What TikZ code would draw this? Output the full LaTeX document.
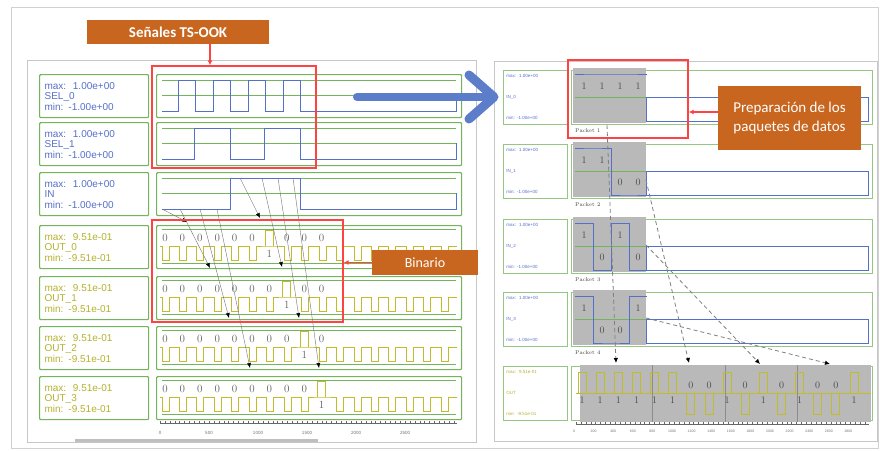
\documentclass[tikz,border=0pt]{standalone}
\usepackage{fontspec}
\usepackage{tikz}
\usetikzlibrary{arrows.meta,positioning,calc}
\newfontfamily\calibri{Carlito}
\newfontfamily\arial{Liberation Sans}
\definecolor{naranja}{HTML}{C8661F}
\definecolor{rojo}{HTML}{FF4343}
\definecolor{verde}{HTML}{72B55A}
\definecolor{azul}{HTML}{5570C8}
\definecolor{azulflecha}{HTML}{5C7DC9}
\definecolor{oliva}{HTML}{B5B22E}
\definecolor{amarillo}{HTML}{C2BC2C}
\definecolor{bloque}{HTML}{B9B9B9}
\definecolor{grisC}{RGB}{95,95,95}
\tikzset{
  nota/.style={rectangle, fill=naranja, text=white, align=center, inner sep=0pt,
               font=\calibri\fontsize{14}{16}\selectfont},
  marcorojo/.style={rectangle, draw=rojo, line width=1.4pt, inner sep=0pt},
  rojoarr/.style={-{Latex[length=5pt,width=5pt]}, draw=rojo, line width=1.4pt},
  etiq/.style={rectangle, draw=verde, line width=1.2pt, rounded corners=1pt, anchor=north west,
               minimum width=109pt, minimum height=43pt, text width=99pt, inner sep=5pt,
               align=left, font=\arial\fontsize{10}{10.5}\selectfont},
  caja/.style={rectangle, draw=verde, line width=1.2pt, rounded corners=1pt, anchor=north west,
               minimum width=305pt, minimum height=43pt, inner sep=0pt},
  etiqR/.style={rectangle, draw=verde!75, line width=0.8pt, anchor=north west,
                minimum width=64pt, minimum height=54pt, text width=58pt, inner sep=3pt,
                align=left, font=\arial\fontsize{4.5}{21}\selectfont},
  cajaR/.style={rectangle, draw=verde!75, line width=0.8pt, anchor=north west,
                minimum width=301pt, minimum height=54pt, inner sep=0pt},
  rejilla/.style={draw=verde, line width=0.8pt},
  onda/.style={draw=azul, line width=0.9pt},
  ondaY/.style={draw=amarillo, line width=0.9pt},
  bit/.style={text=grisC, inner sep=0pt, font=\fontsize{11}{12}\selectfont},
  bitR/.style={text=grisC!80!black, inner sep=0pt, font=\fontsize{10}{11}\selectfont},
  paquete/.style={anchor=west, inner sep=0pt, text=black!75, font=\fontsize{5.5}{6}\selectfont},
  flecha/.style={-{Latex[length=5pt,width=4pt,color=black]}, draw=black!55, line width=0.4pt},
  flechaD/.style={-{Latex[length=5pt,width=4.5pt,color=black]}, draw=black!50, line width=0.8pt,
                  dash pattern=on 4pt off 3pt},
  eje/.style={draw=black!60, line width=0.5pt},
  ejetxt/.style={inner sep=0pt, text=black!55, font=\arial\fontsize{4.5}{5}\selectfont},
}
\begin{document}
\begin{tikzpicture}[x=1pt,y=-1pt]
  \useasboundingbox (0,0) rectangle (880,450);
  \fill[white] (0,0) rectangle (880,450);
  \draw[black!18, line width=0.8pt] (11,7) rectangle (878,448);
  \draw[black!22, line width=0.8pt] (27,60) rectangle (476,442);
  \draw[black!22, line width=0.8pt] (494,61) rectangle (877,441);

  % simulacion TS-OOK
  \foreach \ty/\nm/\col/\mx [count=\i from 0] in {74/SEL\_0/azul/1.00e+00, 122/SEL\_1/azul/1.00e+00,
      172/IN/azul/1.00e+00, 225/OUT\_0/oliva/9.51e-01, 276/OUT\_1/oliva/9.51e-01,
      326/OUT\_2/oliva/9.51e-01, 376/OUT\_3/oliva/9.51e-01}{
    \node[etiq, text=\col] (lab\i) at (39,\ty) {max:\ \ \mx\\\nm\\min: -\mx};
    \node[caja] (onda\i) at (156,\ty) {};
  }
  \foreach \ty in {74,122,172}{
    \draw[rejilla] (162,\ty+6) -- (456,\ty+6);
    \draw[rejilla] (162,\ty+21) -- (456,\ty+21);
  }
  \draw[onda] (162,111) foreach \ra in {178,213,248,283}{ -- (\ra,111) -- (\ra,80) -- (\ra+17,80) -- (\ra+17,111) } -- (456,111) -- (456,95);
  \draw[onda] (162,159) foreach \ra in {194,264}{ -- (\ra,159) -- (\ra,128) -- (\ra+36,128) -- (\ra+36,159) } -- (456,159) -- (456,143);
  \draw[onda] (162,209) -- (230,209) -- (230,178) -- (300,178) -- (300,209) -- (456,209) -- (456,193);

  \foreach \ty/\k in {225/6, 276/7, 326/8, 376/9}{
    \draw[rejilla] (162,\ty+4) -- (456,\ty+4);
    \draw[rejilla] (162,\ty+38) -- (456,\ty+38);
    \draw[ondaY] (160,\ty+21) foreach \j in {0,...,16}{ -- (162+17.45*\j,\ty+21) -- ++(0,{14*notequal(\j,\k)}) -- ++(7,0) -- ++(0,{-14*notequal(\j,\k)}) } -- (457,\ty+21);
    \draw[ondaY] (161+17.4*\k,\ty+21) -- ++(0,-16) -- ++(8,0) -- ++(0,16);
    \node[bit] (uno\k) at (165+17.4*\k,\ty+29) {1};
    \foreach \i in {0,...,9}{
      \ifnum\i=\k\relax\else \node[bit] (cero\k\i) at (165+17.4*\i,\ty+13) {0}; \fi
    }
  }
  \foreach \n/\sx/\sy/\tx/\tyy in {1/162/209/187/222, 2/180/209/210/268, 3/200/209/229/318,
      4/217/209/250/368, 5/240/178/260/218, 6/262/178/282/267, 7/278/178/299/318, 8/293/178/319/368}{
    \coordinate (ini\n) at (\sx,\sy);
    \coordinate (fin\n) at (\tx,\tyy);
    \draw[flecha] (ini\n) -- (fin\n);
  }
  \draw[eje] (160,423) -- (457,423);
  \foreach \x in {0,...,60} \draw[eje, line width=0.3pt] (160+4.9*\x,423) -- ++(0,-2);
  \foreach \v [count=\i from 0] in {0,500,1000,1500,2000,2500}
    \node[ejetxt] (ejeL\i) at (160+49*\i,433) {\v};
  \draw[black!25, line width=3pt] (75,440) -- (318,440);

  \node[marcorojo, minimum width=164pt, minimum height=102pt] (tsbox) at (234,117) {};
  \node[nota, minimum width=182pt, minimum height=24pt,
        font=\calibri\bfseries\fontsize{15}{17}\selectfont] (tslbl) at (178,32) {Señales TS-OOK};
  \draw[rojoarr] ([xshift=32pt]tslbl.south) -- ([xshift=32pt]tslbl.south |- tsbox.north);
  \node[marcorojo, minimum width=191pt, minimum height=102pt] (binbox) at (247.5,271) {};
  \node[nota, minimum width=106pt, minimum height=25pt] (binlbl) at (425,262.5) {Binario};
  \draw[rojoarr] (binlbl.west) -- (binlbl.west -| binbox.east);

  % flecha grande
  \coordinate (flechaIni) at (357,97);
  \coordinate (flechaFin) at (494,97);
  \draw[azulflecha, line width=8pt, line cap=round] (flechaIni) -- ([xshift=-4pt]flechaFin);
  \draw[azulflecha, line width=9pt, line cap=round, line join=round]
    ([shift={(-25,-22)}]flechaFin) -- (flechaFin) -- ([shift={(-25,22)}]flechaFin);

  % paquetes
  \foreach \ty/\nm/\col/\mx [count=\i] in {70/IN\_0/azul/1.00e+00, 144/IN\_1/azul/1.00e+00,
      219/IN\_2/azul/1.00e+00, 292/IN\_3/azul/1.00e+00, 366/OUT/oliva/9.51e-01}{
    \node[etiqR, text=\col] (labR\i) at (503,\ty) {max:\ \ \mx\\\nm\\min: -\mx};
    \node[cajaR] (ondaR\i) at (571,\ty) {};
  }
  \fill[bloque] (580,365) rectangle (871,422);
  \draw[ondaY] (576,393) -- (871,393);
  \foreach \x in {652.5,725,797.5} \draw[black!45, line width=0.5pt] (\x,365) -- (\x,422);
  \foreach \ty/\bits [count=\p] in {70/{1,1,1,1}, 144/{1,1,0,0}, 219/{1,0,1,0}, 292/{1,0,0,1}}{
    \fill[bloque] (573,\ty-2) rectangle (646,\ty+53);
    \draw[rejilla, line width=0.6pt] (575,\ty+27) -- (868,\ty+27);
    \draw[onda, line width=0.7pt] (646,\ty+27) rectangle (868,\ty+51);
    \draw[onda, line width=0.7pt] (575,\ty+4) foreach \bt [count=\i from 0] in \bits
      { -- (575+18*\i,\ty+51-47*\bt) -- (593+18*\i,\ty+51-47*\bt) };
    \foreach \bt [count=\i from 0] in \bits{
      \node[bitR] (bR\p\i) at (584+18*\i,\ty+38-22*\bt) {\bt};
      \draw[ondaY] (505.5+72.5*\p+18.2*\i,393) -- ++(0,{21-42*\bt}) -- ++(8,0) -- ++(0,{42*\bt-21});
      \node[bitR] (bO\p\i) at (509.5+72.5*\p+18.2*\i,385+15*\bt) {\bt};
    }
    \node[paquete] (pk\p) at (575,\ty+61) {Packet \p};
  }
  \foreach \n/\sx/\sy/\tx/\tyy in {1/607/125/616/363, 2/646/180/689/363, 3/646/245/760/364, 4/646/318/830/364}{
    \coordinate (pini\n) at (\sx,\sy);
    \coordinate (pfin\n) at (\tx,\tyy);
    \draw[flechaD] (pini\n) -- (pfin\n);
  }
  \draw[eje] (576,424) -- (869,424);
  \foreach \x in {0,...,59} \draw[eje, line width=0.3pt] (576+4.9*\x,424) -- ++(0,-2);
  \foreach \v [count=\i from 0] in {0,200,...,2800}
    \node[ejetxt, font=\arial\fontsize{3.5}{4}\selectfont] (ejeR\i) at (574+19.6*\i,431) {\v};

  \node[marcorojo, minimum width=120pt, minimum height=78pt] (pqbox) at (628,99) {};
  \node[nota, minimum width=143pt, minimum height=64pt, font=\calibri\fontsize{15}{19}\selectfont]
    (pqlbl) at (789.5,118) {Preparación de los\\paquetes de datos};
  \draw[rojoarr] ([yshift=6pt]pqlbl.west) -- ([yshift=6pt]pqlbl.west -| pqbox.east);
\end{tikzpicture}
\end{document}
